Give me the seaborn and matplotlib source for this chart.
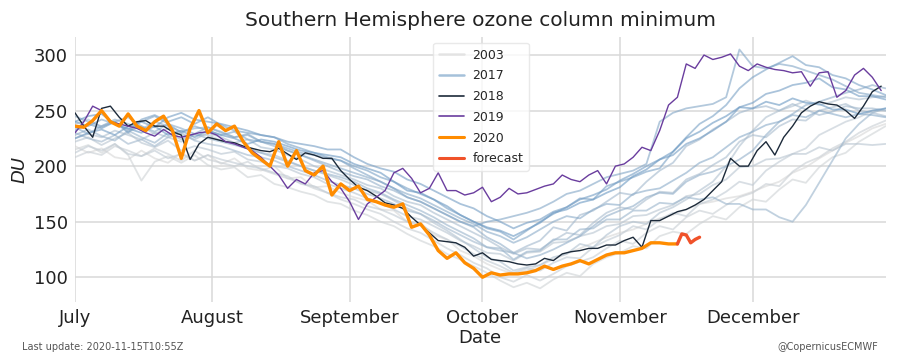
import numpy as np
import pandas as pd
import matplotlib
matplotlib.use("Agg")
import matplotlib.pyplot as plt
import matplotlib.dates as mdates
from matplotlib.lines import Line2D
import seaborn as sns

# ---------------- data (DU, Southern Hemisphere ozone column minimum) ----------------
START = "2020-07-01"
BG_STEP = 3      # days between background-year samples
MAIN_STEP = 2    # days between samples for 2018/2019/2020

v2003 = [218, 212, 216, 208, 206, 214, 207, 203, 212, 205, 210, 202, 207, 198, 196, 200, 189, 190, 181, 182,
         176, 172, 169, 161, 160, 150, 149, 138, 134, 124, 119, 112, 107, 103, 106, 111, 116, 121, 126, 131,
         136, 140, 143, 148, 153, 156, 161, 166, 168, 171, 173, 177, 182, 186, 194, 199, 207, 214, 221, 227,
         234, 238]
v2004 = [215, 219, 212, 220, 210, 187, 204, 209, 203, 210, 201, 197, 199, 190, 192, 184, 181, 177, 174, 168,
         166, 160, 156, 150, 146, 139, 133, 128, 121, 116, 110, 104, 97, 91, 95, 90, 98, 104, 101, 112,
         118, 122, 128, 126, 137, 141, 139, 148, 155, 152, 163, 170, 168, 179, 188, 185, 199, 208, 212, 222,
         229, 236]
v2005 = [208, 213, 210, 218, 214, 209, 216, 211, 205, 214, 206, 203, 200, 204, 197, 193, 189, 185, 180, 176,
         170, 166, 161, 157, 150, 144, 140, 133, 126, 120, 113, 108, 100, 96, 102, 97, 103, 110, 114, 118,
         126, 133, 130, 140, 146, 143, 154, 160, 157, 165, 172, 176, 184, 182, 195, 203, 208, 216, 222, 230,
         236, 241]
v2006 = [212, 218, 214, 220, 211, 209, 214, 207, 211, 205, 210, 206, 203, 200, 198, 194, 191, 184, 182, 176,
         172, 170, 164, 161, 156, 150, 147, 140, 134, 128, 121, 115, 110, 104, 108, 106, 113, 118, 117, 127,
         133, 138, 146, 143, 152, 158, 155, 166, 170, 177, 186, 183, 196, 204, 211, 216, 228, 234, 240, 244,
         250, 250]
v2007 = [222, 226, 219, 225, 230, 221, 217, 223, 214, 218, 215, 211, 213, 206, 204, 200, 198, 193, 190, 184,
         180, 176, 171, 167, 161, 155, 152, 146, 140, 133, 128, 122, 121, 115, 122, 123, 131, 132, 137, 140,
         146, 148, 155, 156, 161, 165, 173, 175, 183, 188, 199, 200, 206, 207, 211, 211, 217, 214, 220, 220,
         219, 220]
v2008 = [225, 229, 226, 232, 228, 224, 230, 226, 222, 228, 228, 223, 220, 216, 212, 210, 205, 200, 196, 192,
         188, 183, 178, 175, 169, 162, 157, 149, 142, 134, 126, 118, 114, 106, 109, 111, 118, 121, 130, 127,
         138, 146, 150, 148, 158, 163, 170, 178, 186, 200, 218, 232, 244, 250, 254, 259, 255, 258, 262, 260,
         262, 263]
v2009 = [238, 242, 235, 240, 231, 236, 229, 234, 228, 224, 230, 226, 221, 224, 217, 215, 210, 206, 200, 196,
         192, 188, 183, 180, 173, 168, 165, 158, 152, 146, 140, 134, 127, 121, 126, 125, 133, 140, 138, 149,
         158, 163, 161, 170, 177, 176, 188, 193, 201, 208, 222, 228, 226, 236, 242, 241, 250, 253, 256, 250,
         248, 245]
v2010 = [230, 225, 222, 228, 220, 224, 218, 226, 230, 223, 220, 218, 214, 210, 208, 205, 200, 196, 192, 187,
         183, 180, 175, 171, 166, 160, 157, 151, 144, 138, 132, 127, 124, 122, 128, 133, 145, 142, 156, 160,
         168, 176, 174, 186, 196, 203, 218, 224, 233, 240, 248, 252, 254, 250, 256, 251, 246, 249, 254, 252,
         252, 250]
v2011 = [228, 233, 227, 223, 232, 226, 221, 230, 224, 229, 225, 222, 219, 216, 212, 208, 204, 200, 196, 193,
         190, 186, 180, 176, 170, 165, 160, 154, 147, 141, 135, 127, 126, 116, 123, 124, 134, 134, 143, 144,
         152, 152, 160, 160, 167, 166, 172, 170, 172, 166, 166, 161, 161, 154, 150, 165, 185, 205, 225, 238,
         248, 252]
v2012 = [245, 240, 236, 242, 238, 233, 240, 236, 231, 234, 235, 230, 226, 229, 222, 218, 214, 210, 205, 200,
         195, 191, 188, 182, 178, 172, 168, 162, 156, 150, 145, 136, 130, 122, 117, 120, 125, 131, 137, 146,
         155, 160, 164, 172, 176, 175, 186, 192, 195, 200, 206, 214, 228, 240, 247, 255, 258, 262, 266, 269,
         273, 270]
v2013 = [235, 229, 236, 240, 244, 236, 231, 238, 234, 229, 235, 231, 226, 228, 222, 220, 214, 210, 206, 202,
         198, 194, 190, 186, 180, 175, 171, 165, 159, 153, 148, 141, 137, 131, 136, 143, 150, 155, 153, 161,
         166, 165, 175, 178, 180, 187, 194, 203, 208, 217, 226, 231, 237, 240, 246, 244, 250, 247, 244, 247,
         246, 244]
v2014 = [240, 236, 242, 238, 233, 240, 245, 238, 230, 236, 232, 228, 231, 224, 222, 220, 216, 212, 210, 207,
         205, 198, 192, 186, 180, 172, 168, 162, 156, 150, 146, 150, 152, 155, 158, 162, 168, 175, 178, 184,
         190, 193, 196, 202, 240, 248, 252, 254, 256, 262, 305, 290, 288, 292, 290, 286, 282, 278, 272, 266,
         264, 262]
v2015 = [232, 238, 234, 240, 230, 242, 246, 240, 244, 238, 244, 237, 232, 230, 228, 226, 220, 216, 212, 208,
         205, 200, 196, 190, 186, 180, 175, 170, 162, 156, 150, 144, 141, 134, 142, 150, 157, 163, 171, 170,
         182, 186, 190, 195, 198, 213, 226, 238, 245, 255, 270, 280, 287, 293, 299, 291, 289, 282, 279, 273,
         269, 264]
v2016 = [225, 230, 233, 228, 236, 240, 235, 244, 248, 242, 240, 238, 235, 232, 228, 226, 222, 220, 218, 215,
         215, 208, 202, 198, 195, 188, 184, 178, 172, 166, 162, 155, 150, 144, 149, 152, 159, 163, 170, 174,
         179, 187, 193, 200, 206, 210, 220, 225, 232, 240, 253, 257, 265, 268, 273, 275, 279, 271, 269, 263,
         263, 260]
v2017 = [240, 245, 247, 238, 234, 230, 236, 228, 232, 226, 232, 228, 225, 220, 224, 222, 218, 214, 212, 210,
         208, 202, 198, 194, 186, 178, 176, 170, 164, 156, 150, 145, 142, 137, 143, 149, 158, 161, 167, 170,
         176, 181, 191, 197, 206, 213, 225, 231, 239, 245, 253, 252, 258, 255, 261, 257, 256, 251, 251, 247,
         250, 252]

bg_years = [2003, 2004, 2005, 2006, 2007, 2008, 2009, 2010, 2011, 2012, 2013, 2014, 2015, 2016, 2017]
bg_values = [v2003, v2004, v2005, v2006, v2007, v2008, v2009, v2010, v2011, v2012,
             v2013, v2014, v2015, v2016, v2017]

v2018 = [248, 236, 226, 252, 254, 244, 236, 240, 241, 236, 236, 231, 228, 206, 220, 226, 224, 222, 221, 218,
         216, 214, 213, 216, 211, 206, 212, 210, 207, 207, 196, 188, 181, 178, 173, 167, 165, 162, 154, 147,
         140, 133, 132, 131, 127, 119, 122, 116, 115, 114, 112, 111, 112, 117, 115, 121, 123, 124, 126, 126,
         129, 129, 133, 136, 127, 151, 151, 155, 159, 161, 165, 170, 178, 186, 207, 200, 200, 214, 222, 210,
         226, 236, 248, 254, 258, 256, 255, 250, 243, 254, 267, 272]
v2019 = [230, 240, 254, 250, 240, 238, 236, 234, 230, 227, 233, 228, 226, 228, 230, 231, 228, 222, 220, 217,
         214, 208, 200, 192, 180, 188, 184, 194, 196, 186, 180, 168, 152, 166, 172, 178, 194, 198, 189, 176,
         180, 194, 178, 178, 174, 176, 181, 168, 172, 180, 175, 176, 179, 182, 184, 192, 188, 186, 192, 196,
         184, 200, 202, 208, 217, 214, 232, 255, 262, 292, 288, 300, 296, 298, 301, 290, 286, 292, 289, 287,
         286, 284, 285, 272, 284, 285, 262, 268, 282, 288, 280, 268]
v2020 = [236, 235, 241, 250, 240, 236, 247, 236, 232, 240, 245, 232, 207, 234, 250, 230, 238, 232, 236, 222,
         212, 206, 200, 222, 200, 214, 196, 192, 200, 174, 184, 178, 182, 170, 168, 165, 163, 166, 145, 148,
         138, 124, 117, 122, 113, 108, 100, 104, 102, 103, 103, 104, 106, 110, 107, 110, 112, 115, 112, 116,
         120, 122, 122, 124, 126, 131, 131, 130, 130]
forecast_start_day = 136
forecast = [130, 139, 138, 131, 134, 136]

month_labels = ["July", "August", "September", "October", "November", "December"]
title = "Southern Hemisphere ozone column minimum"
footer_left = "Last update: 2020-11-15T10:55Z"
footer_right = "@CopernicusECMWF"


def series_frame(values, step, offset=0):
    days = offset + np.arange(len(values)) * step
    return pd.DataFrame({"date": pd.Timestamp(START) + pd.to_timedelta(days, unit="D"),
                         "DU": values})


# ---------------- style ----------------
sns.set_theme(style="whitegrid")
plt.rcParams["font.family"] = ["DejaVu Sans"]

fig = plt.figure(figsize=(9, 3.6), dpi=100)
ax = fig.add_axes([0.0833, 0.162, 0.9007, 0.736])

bg_colors = sns.blend_palette(["#d6d6d6", "#6a98c2"], len(bg_years))
for yr, vals, col in zip(bg_years, bg_values, bg_colors):
    sns.lineplot(data=series_frame(vals, BG_STEP), x="date", y="DU", ax=ax,
                 color=col, lw=1.3, alpha=0.6)

c2018, c2019, c2020, cfc = "#1c2a3a", "#6a3d9e", "#ff8c00", "#f0522a"
sns.lineplot(data=series_frame(v2018, MAIN_STEP), x="date", y="DU", ax=ax, color=c2018, lw=1.0)
sns.lineplot(data=series_frame(v2019, MAIN_STEP), x="date", y="DU", ax=ax, color=c2019, lw=1.0)
sns.lineplot(data=series_frame(v2020, MAIN_STEP), x="date", y="DU", ax=ax, color=c2020, lw=2.4)
sns.lineplot(data=series_frame(forecast, 1, forecast_start_day), x="date", y="DU", ax=ax,
             color=cfc, lw=2.4)

ax.set_xlim(pd.Timestamp(START), pd.Timestamp("2020-12-31"))
ax.set_ylim(78, 316.5)
ax.set_yticks([100, 150, 200, 250, 300])
ax.xaxis.set_major_locator(mdates.MonthLocator())
ax.set_xticks(ax.get_xticks()[:len(month_labels)])
ax.set_xticklabels(month_labels)

for s in ax.spines.values():
    s.set_visible(False)
ax.grid(True, color="#d9d9d9", lw=1.1)
ax.tick_params(axis="both", labelsize=13, length=0, pad=5, colors="#222222")
ax.set_xlabel("Date", fontsize=13, color="#222222", labelpad=2)
ax.set_ylabel("DU", fontsize=13, style="italic", color="#222222", labelpad=4)
ax.set_title(title, fontsize=14.5, color="#222222", pad=8)

handles = [
    Line2D([], [], color=bg_colors[0], lw=1.8, alpha=0.6),
    Line2D([], [], color=bg_colors[-1], lw=1.8, alpha=0.6),
    Line2D([], [], color=c2018, lw=1.2),
    Line2D([], [], color=c2019, lw=1.2),
    Line2D([], [], color=c2020, lw=2.2),
    Line2D([], [], color=cfc, lw=2.2),
]
labels = ["2003", "2017", "2018", "2019", "2020", "forecast"]
ax.legend(handles, labels, loc="upper left", bbox_to_anchor=(0.434, 1.0), fontsize=9,
          frameon=True, framealpha=0.8, edgecolor="#e4e4e4", handlelength=2.0,
          labelspacing=0.62, borderpad=0.45, handletextpad=0.7)

fig.text(22 / 900, 1 - 347 / 360, footer_left, fontsize=7, color="#555555", va="center", ha="left")
fig.text(878 / 900, 1 - 347 / 360, footer_right, fontsize=7, color="#555555", va="center", ha="right")

fig.savefig("out.png", dpi=100)
